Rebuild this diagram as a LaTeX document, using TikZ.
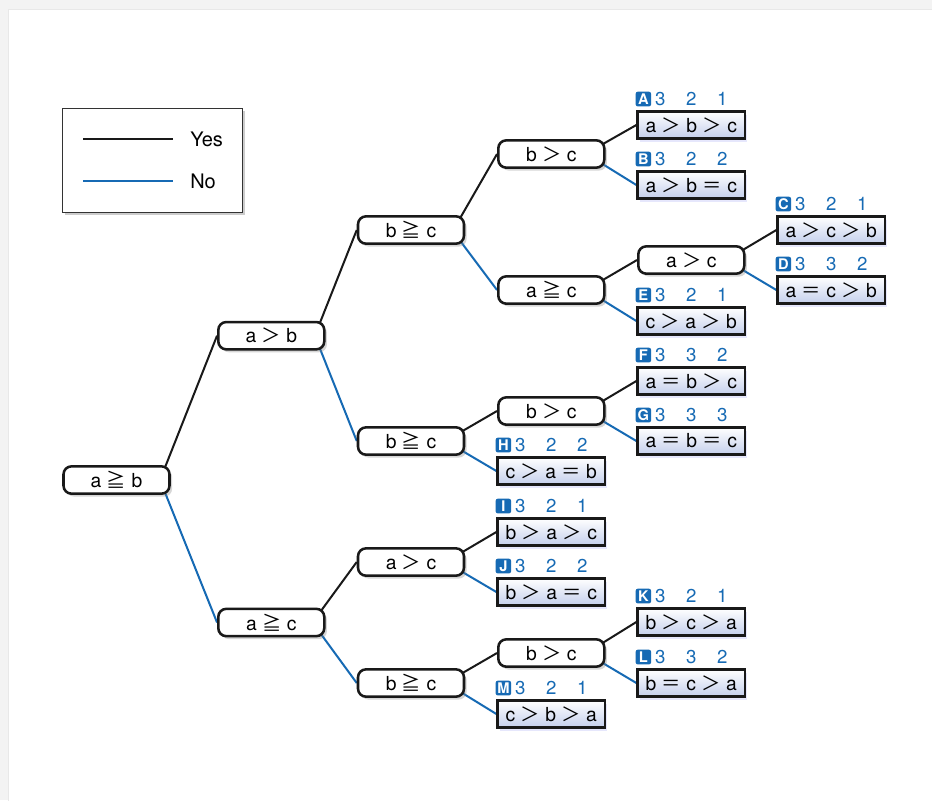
\documentclass[tikz,border=0pt]{standalone}
\usepackage{fontspec}
\setmainfont{TeX Gyre Heros}
\newfontfamily\symjp{Noto Sans CJK JP}
\usetikzlibrary{shadows,calc}
\definecolor{noblue}{RGB}{22,106,180}
\definecolor{leafblue}{RGB}{196,207,236}
\definecolor{outerbg}{RGB}{243,243,243}
\newcommand\mygt{{\symjp ＞}}
\newcommand\myeq{{\symjp ＝}}
\newcommand\mygeq{{\symjp ≧}}
\pgfdeclarelayer{bgl}
\pgfdeclarelayer{edges}
\pgfsetlayers{bgl,edges,main}
\tikzset{
  dec/.style={draw=black!90, line width=1.9pt, rounded corners=6pt, fill=white,
    minimum width=79.5pt, minimum height=20.5pt, inner sep=0pt,
    font=\fontsize{14.5}{15}\selectfont,
    drop shadow={shadow xshift=2pt, shadow yshift=-2.2pt, opacity=0.32}},
  leaf/.style={draw=black!90, line width=1.9pt, top color=white, bottom color=leafblue,
    minimum width=80.5pt, minimum height=20.5pt, inner sep=0pt,
    font=\fontsize{14.5}{15}\selectfont,
    drop shadow={shadow xshift=1.5pt, shadow yshift=-2.5pt, opacity=0.35, fill=leafblue!70!blue!60}},
  lbox/.style={fill=noblue, rounded corners=1.5pt, minimum width=11.5pt, minimum height=11pt,
    inner sep=0pt, text=white, font=\fontsize{11}{11}\selectfont\bfseries},
  lnum/.style={text=noblue, inner sep=0pt, font=\fontsize{14}{14}\selectfont},
  yesl/.style={draw=black!90, line width=1.5pt},
  nol/.style={draw=noblue, line width=1.5pt},
  legbox/.style={draw=black!80, line width=0.9pt, fill=white, minimum width=135pt,
    minimum height=78pt, inner sep=0pt,
    drop shadow={shadow xshift=2pt, shadow yshift=-2pt, opacity=0.4}},
  legtext/.style={anchor=west, inner sep=0pt, font=\fontsize{15}{16}\selectfont}
}
\newcommand\leaflab[5]{%
  \node[lbox] (#1box) at ($(#1.north west)+(7,-11)$) {#2};
  \node[lnum] (#1n1) at ($(#1.north west)+(24,-11)$) {#3};
  \node[lnum] (#1n2) at ($(#1.north west)+(55,-11)$) {#4};
  \node[lnum] (#1n3) at ($(#1.north west)+(86,-11)$) {#5};}
\newcommand\yesedge[2]{\draw[yesl] ($(#1.north east)+(-8,8)$) -- (#2.west);}
\newcommand\noedge[2]{\draw[nol] ($(#1.south east)+(-8,-8)$) -- (#2.west);}
\begin{document}
\begin{tikzpicture}[x=0.75pt,y=-0.75pt]
\useasboundingbox (0,0) rectangle (932,800);
\begin{pgfonlayer}{bgl}
\fill[outerbg] (0,0) rectangle (932,800);
\fill[black!9] (7.5,8.5) rectangle (940,810);
\fill[white] (9,10) rectangle (940,810);
\end{pgfonlayer}

% legend
\node[legbox] (leg) at (152.5,160.5) {};
\coordinate (ly1) at (83,139);
\coordinate (ly2) at (173,139);
\coordinate (ln1) at (83,181);
\coordinate (ln2) at (173,181);
\draw[yesl, line width=1.3pt] (ly1) -- (ly2);
\draw[nol, line width=1.3pt] (ln1) -- (ln2);
\node[legtext] (lyes) at (190,139) {Yes};
\node[legtext] (lno) at (190,181) {No};

% decision nodes
\node[dec] (n1) at (116.5,480) {a \mygeq\ b};
\node[dec] (n2) at (271.3,335.7) {a \mygt\ b};
\node[dec] (n3) at (271.3,622.5) {a \mygeq\ c};
\node[dec] (n4) at (411,230) {b \mygeq\ c};
\node[dec] (n5) at (411,441) {b \mygeq\ c};
\node[dec] (n6) at (411,562) {a \mygt\ c};
\node[dec] (n7) at (411,683) {b \mygeq\ c};
\node[dec] (n8) at (551.3,154) {b \mygt\ c};
\node[dec] (n9) at (551.3,290) {a \mygeq\ c};
\node[dec] (n10) at (551.3,411) {b \mygt\ c};
\node[dec] (n11) at (551.3,653) {b \mygt\ c};
\node[dec] (n12) at (691.3,260) {a \mygt\ c};

% leaves
\node[leaf] (A) at (691.3,125) {a \mygt\ b \mygt\ c};
\node[leaf] (B) at (691.3,185) {a \mygt\ b \myeq\ c};
\node[leaf] (C) at (831.3,230) {a \mygt\ c \mygt\ b};
\node[leaf] (D) at (831.3,290) {a \myeq\ c \mygt\ b};
\node[leaf] (E) at (691.3,321) {c \mygt\ a \mygt\ b};
\node[leaf] (F) at (691.3,381) {a \myeq\ b \mygt\ c};
\node[leaf] (G) at (691.3,441) {a \myeq\ b \myeq\ c};
\node[leaf] (H) at (551.3,471) {c \mygt\ a \myeq\ b};
\node[leaf] (I) at (551.3,532) {b \mygt\ a \mygt\ c};
\node[leaf] (J) at (551.3,592) {b \mygt\ a \myeq\ c};
\node[leaf] (K) at (691.3,622) {b \mygt\ c \mygt\ a};
\node[leaf] (L) at (691.3,683) {b \myeq\ c \mygt\ a};
\node[leaf] (M) at (551.3,714) {c \mygt\ b \mygt\ a};

\leaflab{A}{A}{3}{2}{1}
\leaflab{B}{B}{3}{2}{2}
\leaflab{C}{C}{3}{2}{1}
\leaflab{D}{D}{3}{3}{2}
\leaflab{E}{E}{3}{2}{1}
\leaflab{F}{F}{3}{3}{2}
\leaflab{G}{G}{3}{3}{3}
\leaflab{H}{H}{3}{2}{2}
\leaflab{I}{I}{3}{2}{1}
\leaflab{J}{J}{3}{2}{2}
\leaflab{K}{K}{3}{2}{1}
\leaflab{L}{L}{3}{3}{2}
\leaflab{M}{M}{3}{2}{1}

\begin{pgfonlayer}{edges}
\yesedge{n1}{n2} \noedge{n1}{n3}
\yesedge{n2}{n4} \noedge{n2}{n5}
\yesedge{n3}{n6} \noedge{n3}{n7}
\yesedge{n4}{n8} \noedge{n4}{n9}
\yesedge{n8}{A}  \noedge{n8}{B}
\yesedge{n9}{n12} \noedge{n9}{E}
\yesedge{n12}{C} \noedge{n12}{D}
\yesedge{n5}{n10} \noedge{n5}{H}
\yesedge{n10}{F} \noedge{n10}{G}
\yesedge{n6}{I}  \noedge{n6}{J}
\yesedge{n7}{n11} \noedge{n7}{M}
\yesedge{n11}{K} \noedge{n11}{L}
\end{pgfonlayer}
\end{tikzpicture}
\end{document}
